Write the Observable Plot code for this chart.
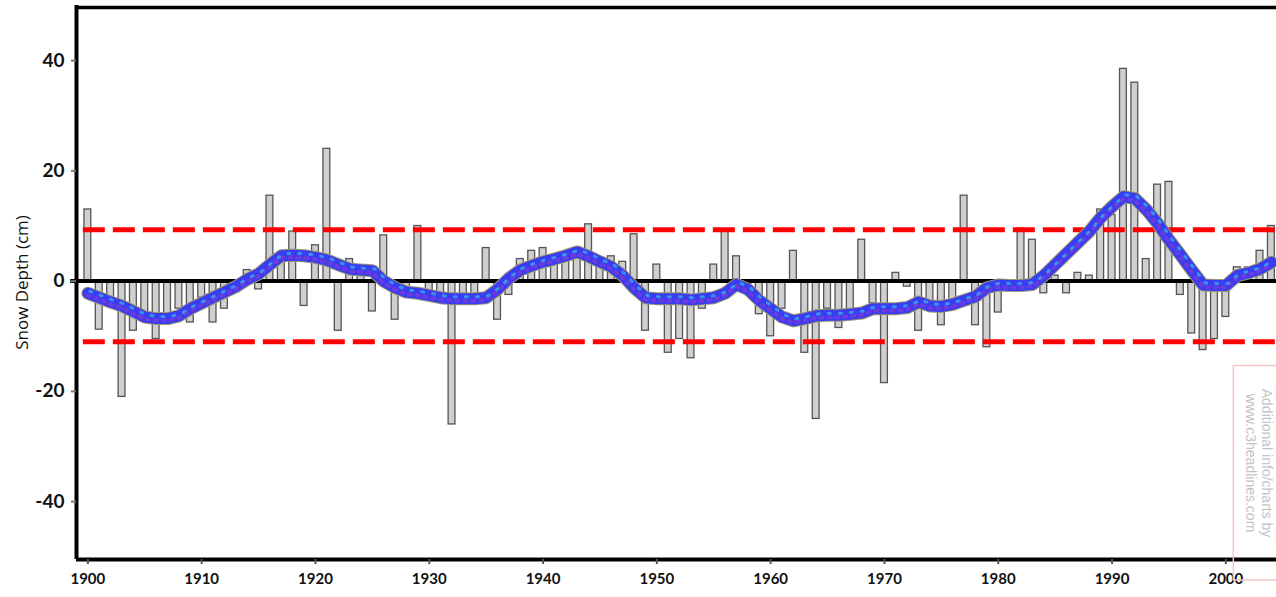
<!DOCTYPE html>
<html>
<head>
<meta charset="utf-8">
<script src="https://cdn.jsdelivr.net/npm/d3@7"></script>
<script src="https://cdn.jsdelivr.net/npm/@observablehq/plot@0.6"></script>
<style>
  html, body { margin: 0; padding: 0; background: #fff; }
  #chart svg { display: block; }
</style>
</head>
<body>
<div id="chart"></div>
<script>
// ---- data ----
const startYear = 1900;
const anomalies = [
  13, -8.8, -4, -21, -9, -6, -10.5, -7, -5, -7.5,          // 1900-1909
  -3, -7.5, -5, -2, 2, -1.5, 15.5, 4, 9, -4.5,             // 1910-1919
  6.5, 24, -9, 4, 2.5, -5.5, 8.3, -7, -2, 10,              // 1920-1929
  -3, -3, -26, -3.5, -2.5, 6, -7, -2.5, 4, 5.5,            // 1930-1939
  6, 4, 4, 6, 10.3, 3, 4.5, 3.5, 8.5, -9,                  // 1940-1949
  3, -13, -10.5, -14, -5, 3, 9, 4.5, -1, -6,               // 1950-1959
  -10, -5, 5.5, -13, -25, -5, -8.5, -6, 7.5, -4,           // 1960-1969
  -18.5, 1.5, -1, -9, -5, -8, -4, 15.5, -8, -12,           // 1970-1979
  -5.7, -1, 9.5, 7.5, -2.2, 1, -2.2, 1.5, 1, 13,           // 1980-1989
  12, 38.5, 36, 4, 17.5, 18, -2.5, -9.5, -12.5, -10.5,     // 1990-1999
  -6.5, 2.5, 2.5, 5.5, 10                                  // 2000-2004
];
const smoothed = [
  -2.2, -3.0, -3.8, -4.5, -5.5, -6.5, -6.8, -6.8, -6.3, -5.0,
  -4.0, -3.0, -2.0, -1.0, 0.3, 1.3, 3.0, 4.6, 4.7, 4.6,
  4.3, 3.8, 3.0, 2.2, 2.0, 1.9, 0.0, -1.2, -2.0, -2.2,
  -2.6, -3.0, -3.2, -3.2, -3.2, -3.0, -1.5, 0.5, 2.0, 2.8,
  3.5, 4.0, 4.6, 5.3, 4.5, 3.5, 2.6, 1.0, -1.2, -3.0,
  -3.2, -3.2, -3.2, -3.4, -3.2, -3.0, -2.2, -0.6, -1.5, -3.5,
  -5.0, -6.5, -7.2, -6.8, -6.3, -6.2, -6.2, -6.0, -5.8, -5.0,
  -5.0, -5.0, -4.8, -3.8, -4.5, -4.6, -4.2, -3.5, -2.8, -1.2,
  -0.7, -0.8, -0.8, -0.6, 1.0, 3.0, 5.0, 7.0, 9.0, 11.5,
  13.5, 15.3, 15.0, 13.0, 10.5, 7.5, 4.8, 2.0, -0.7, -0.8,
  -0.8, 1.0, 1.5, 2.2, 3.4
];
const thresholds = [9.3, -11];
const xTicks = [1900, 1910, 1920, 1930, 1940, 1950, 1960, 1970, 1980, 1990, 2000];
const yTicks = [-40, -20, 0, 20, 40];
const yLabel = "Snow Depth (cm)";
const watermark = ["Additional info/charts by", "www.c3headlines.com"];

const years = anomalies.map((_, i) => startYear + i);
const bars = years.map((y, i) => ({year: y, value: anomalies[i]}));
const smooth = years.map((y, i) => ({year: y, value: smoothed[i]}));

const xDomain = [1899, 2004.45];
const yDomain = [-50.5, 50];

const chart = Plot.plot({
  width: 1276,
  height: 597,
  marginLeft: 76,
  marginRight: 0,
  marginTop: 5,
  marginBottom: 38,
  style: {background: "#fff", overflow: "visible"},
  x: {domain: xDomain},
  y: {domain: yDomain},
  marks: [
    // bars
    Plot.rectY(bars, {
      x1: d => d.year - 0.3, x2: d => d.year + 0.3, y1: 0, y2: "value",
      fill: "#cfcfcf", stroke: "#555", strokeWidth: 1.3
    }),
    // thresholds
    Plot.ruleY(thresholds, {
      x1: 1899.6, x2: xDomain[1],
      stroke: "#ff0000", strokeWidth: 5, strokeDasharray: "22,8"
    }),
    // zero line
    Plot.ruleY([0], {x1: 1898.5, x2: xDomain[1], stroke: "#000", strokeWidth: 4}),
    // smoothed line (outline + body + texture)
    Plot.line(smooth, {x: "year", y: "value", stroke: "#9a9870", strokeWidth: 13, strokeLinejoin: "round", strokeLinecap: "round"}),
    Plot.line(smooth, {x: "year", y: "value", stroke: "#3a3cf2", strokeWidth: 11, strokeLinejoin: "round", strokeLinecap: "round"}),
    Plot.line(smooth, {x: "year", y: "value", stroke: "#7a3ad8", strokeWidth: 4, strokeDasharray: "2,6", dy: 2, strokeOpacity: 0.8}),
    Plot.line(smooth, {x: "year", y: "value", stroke: "#3aa8e8", strokeWidth: 3, strokeDasharray: "2,9", dx: 2, dy: -2, strokeOpacity: 0.8}),
    // frame: left, bottom, top
    Plot.ruleX([xDomain[0]], {y1: yDomain[0], y2: yDomain[1], stroke: "#000", strokeWidth: 4}),
    Plot.ruleY([yDomain[0]], {x1: xDomain[0], x2: xDomain[1], stroke: "#000", strokeWidth: 4}),
    Plot.ruleY([yDomain[1] - 0.35], {x1: xDomain[0], x2: xDomain[1], stroke: "#000", strokeWidth: 3.5}),
    // axes
    Plot.axisX({
      ticks: xTicks, tickFormat: d => String(d), tickSize: 5, tickPadding: 9,
      stroke: "#555", strokeWidth: 2,
      fontSize: 15, fontWeight: "bold", fill: "#111", label: null
    }),
    Plot.axisY({
      ticks: yTicks, tickFormat: d => String(d), tickSize: 5, tickPadding: 7,
      stroke: "#777", strokeWidth: 2,
      fontSize: 19, fontWeight: "bold", fill: "#111", label: null
    }),
    // y label
    Plot.text([yLabel], {
      frameAnchor: "left", textAnchor: "middle", dx: -54, rotate: -90,
      fontSize: 17, fill: "#111", fontFamily: "'Open Sans', Lato, sans-serif"
    }),
    // watermark box and text
    Plot.rect([0], {x1: 2000.7, x2: 2004.6, y1: -54.3, y2: -15.4, fill: "none", stroke: "#f3c6c6", strokeWidth: 1.5}),
    Plot.text(watermark, {
      x: (d, i) => i === 0 ? 2003.6 : 2002.2, y: -33,
      rotate: 90, fontSize: 14, fill: "#c4c4c4", fontFamily: "Liberation Sans, Arial, sans-serif"
    })
  ]
});
chart.style.fontFamily = "Lato, 'Open Sans', sans-serif";
document.getElementById("chart").appendChild(chart);
</script>
</body>
</html>
